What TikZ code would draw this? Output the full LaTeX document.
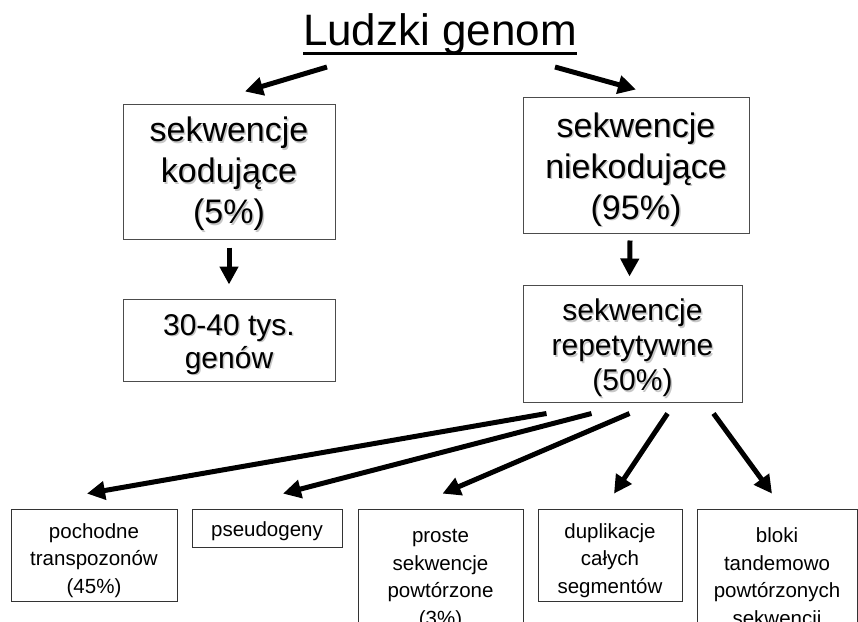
\documentclass[tikz,border=0pt]{standalone}
\usepackage{fontspec}
\setmainfont{Liberation Sans}
\usetikzlibrary{arrows.meta}

% text with a soft grey shadow
\newcommand{\shd}[1]{\rlap{\hspace{1.5pt}\raisebox{-1.5pt}{\color{black!22}#1}}#1}
% underlined title
\newcommand{\ulsolid}[1]{\setbox0=\hbox{#1}\rlap{\rule[-10pt]{\wd0}{3.5pt}}\box0}
% centred lines, set a little lower in their box
\newcommand{\lowtext}[2][5pt]{\raisebox{-#1}[\height][\depth]{\begin{tabular}{@{}c@{}}#2\end{tabular}}}

\tikzset{
  box/.style={draw=black!70, line width=1pt, inner sep=0pt},
  bigbox/.style={box, font=\fontsize{34}{41}\selectfont},
  midbox/.style={box, font=\fontsize{30}{35}\selectfont},
  leafbox/.style={draw=black!80, line width=0.8pt, inner sep=0pt,
    font=\fontsize{20.5}{27.5}\selectfont},
  arr/.style={line width=5pt, -{Triangle[length=18pt,width=18pt]}}
}

\begin{document}
\begin{tikzpicture}[x=1pt,y=-1pt]

  \useasboundingbox (0,0) rectangle (858,621);
  \clip (0,0) rectangle (858,621);

  % --- Title ---
  \node[anchor=base, inner sep=0pt, font=\fontsize{44}{50}\selectfont]
    (title) at (440,45) {\ulsolid{Ludzki genom}};

  % --- Upper level ---
  \node[bigbox, minimum width=212, minimum height=135] (coding) at (229,171.5)
    {\lowtext[3pt]{\shd{sekwencje}\\\shd{kodujące}\\\shd{(5\%)}}};
  \node[bigbox, minimum width=226, minimum height=136] (noncoding) at (636,165)
    {\lowtext{\shd{sekwencje}\\\shd{niekodujące}\\\shd{(95\%)}}};

  % --- Middle level ---
  \node[box, font=\fontsize{30}{33}\selectfont, minimum width=212, minimum height=82]
    (genes) at (229,340) {\lowtext{\shd{30-40 tys.}\\\shd{genów}}};
  \node[midbox, minimum width=219, minimum height=117] (repeats) at (632.5,343.5)
    {\lowtext{\shd{sekwencje}\\\shd{repetytywne}\\\shd{(50\%)}}};

  % --- Kinds of repeats ---
  \node[leafbox, minimum width=166, minimum height=92] (transp) at (94,555)
    {\lowtext{pochodne\\transpozonów\\(45\%)}};
  \node[leafbox, minimum width=150, minimum height=38] (pseudo) at (267,528)
    {\lowtext[3pt]{pseudogeny}};
  \node[leafbox, minimum width=165, minimum height=129] (simple) at (440.5,573.5)
    {\lowtext{proste\\sekwencje\\powtórzone\\(3\%)}};
  \node[leafbox, minimum width=144, minimum height=92] (dupl) at (610,555)
    {\lowtext{duplikacje\\całych\\segmentów}};
  \node[leafbox, minimum width=160, minimum height=129] (tandem) at (777,573.5)
    {\lowtext{bloki\\tandemowo\\powtórzonych\\sekwencji}};

  % --- Arrows ---
  \draw[arr] ([shift={(-113,22)}]title.base) -- ([shift={(16,-12)}]coding.north);
  \draw[arr] ([shift={(115,22)}]title.base) -- ([shift={(0,-7)}]noncoding.north);

  \draw[arr] ([shift={(0,8)}]coding.south) -- ([shift={(0,-14)}]genes.north);
  \draw[arr] ([shift={(-6,7)}]noncoding.south) -- ([shift={(-3,-8)}]repeats.north);

  \foreach \sx/\tgt/\ex in {-86/transp/-7, -41/pseudo/16, -3/simple/2, 35/dupl/4, 81/tandem/-5} {
    \draw[arr] ([shift={(\sx,11)}]repeats.south) -- ([shift={(\ex,-15)}]\tgt.north);
  }

\end{tikzpicture}
\end{document}
